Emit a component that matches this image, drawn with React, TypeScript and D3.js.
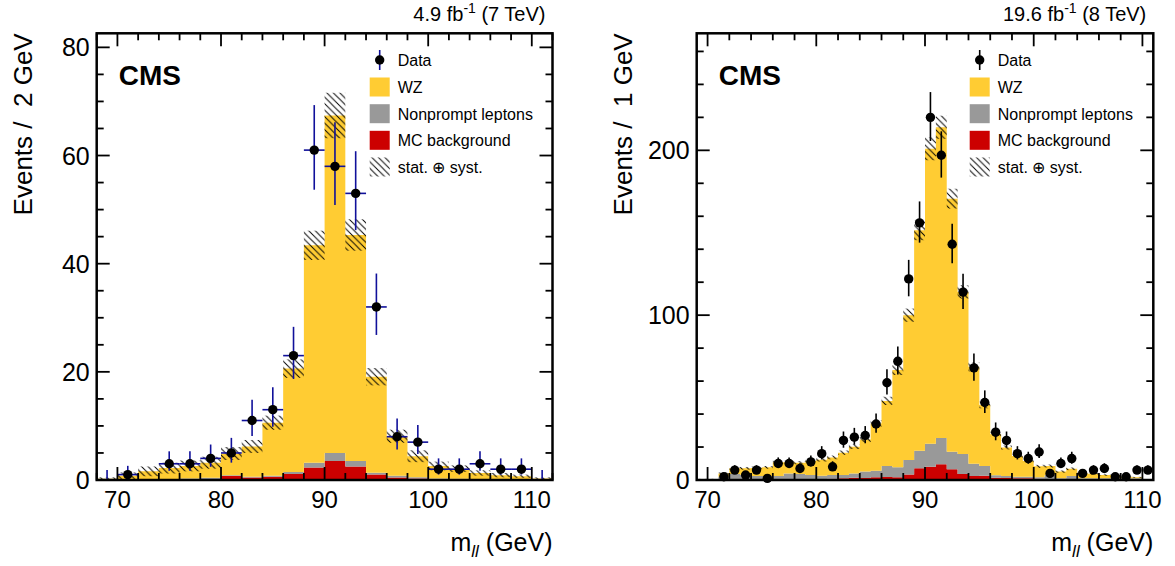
import React from "react";
import * as d3 from "d3";

const W = 1175;
const H = 566;

// ---------- Left panel: 4.9 fb-1 (7 TeV), 2 GeV bins ----------
const binsLeft = [68, 70, 72, 74, 76, 78, 80, 82, 84, 86, 88, 90, 92, 94, 96, 98, 100, 102, 104, 106, 108, 110];
const mcBkgLeft = [0.2, 0.1, 0.1, 0.1, 0.1, 0.2, 0.75, 0.45, 0.6, 1.1, 2.3, 3.5, 2.5, 1.0, 0.45, 0.3, 0.15, 0.1, 0.1, 0.1, 0.1, 0.1];
const nonpromptLeft = [0.05, 0.1, 0.1, 0.1, 0.2, 0.2, 0.15, 0.15, 0.2, 0.4, 0.9, 1.5, 1.0, 0.35, 0.35, 0.2, 0.15, 0.15, 0.1, 0.1, 0.1, 0.05];
const wzLeft = [0.05, 0.6, 1.4, 2.0, 2.3, 2.8, 4.0, 5.6, 9.8, 19.1, 40.2, 62.4, 41.8, 17.75, 7.3, 3.9, 2.3, 1.85, 1.1, 0.7, 0.5, 0.15];
const uncLeft = [0.2, 0.6, 0.9, 1.0, 1.0, 1.1, 1.2, 1.2, 1.3, 1.7, 2.7, 4.2, 2.9, 1.6, 1.2, 1.1, 0.8, 0.6, 0.5, 0.4, 0.3, 0.2];
const dataLeft: (number | null)[] = [0, 1, null, 3, 3, 4, 5, 11, 13, 23, 61, 58, 53, 32, 8, 7, 2, 2, 3, 2, 2, 0];
const yTicksLeft = [0, 20, 40, 60, 80];

// ---------- Right panel: 19.6 fb-1 (8 TeV), 1 GeV bins ----------
const binsRight = [69, 70, 71, 72, 73, 74, 75, 76, 77, 78, 79, 80, 81, 82, 83, 84, 85, 86, 87, 88, 89, 90, 91, 92, 93, 94, 95, 96, 97, 98, 99, 100, 101, 102, 103, 104, 105, 106, 107, 108, 109, 110];
const mcBkgRight = [0.5, 0.5, 0.5, 0.5, 0.4, 0.4, 0.4, 0.4, 0.5, 0.5, 0.6, 0.6, 0.7, 1.0, 1.3, 1.2, 1.6, 1.8, 1.6, 3.4, 7.1, 8.1, 9.5, 6.5, 3.6, 2.4, 2.6, 1.4, 1.2, 1.0, 1.0, 0.8, 0.6, 0.5, 0.5, 0.4, 0.4, 0.4, 0.4, 0.4, 0.4, 0];
const nonpromptRight = [0, 0, 1.5, 3.1, 2.6, 2.0, 2.0, 2.0, 3.5, 3.1, 2.4, 2.0, 2.3, 2.0, 2.7, 3.9, 4.0, 6.7, 6.1, 8.7, 10.7, 13.9, 16.0, 10.7, 12.2, 7.4, 5.9, 1.5, 1.2, 1.0, 1.0, 0.8, 2.4, 0.5, 1.9, 0.6, 0.6, 0.6, 0.6, 0.6, 0.6, 0];
const wzRight = [0, 0, 2.0, 3.5, 4.1, 4.9, 5.3, 8.3, 6.7, 6.9, 8.5, 9.7, 10.7, 13.6, 16.2, 19.5, 28.7, 39.5, 59.0, 87.9, 133.7, 179.0, 188.5, 153.5, 98.3, 58.9, 37.0, 24.9, 17.3, 12.6, 9.6, 6.7, 5.5, 4.1, 4.4, 3.0, 2.8, 2.0, 2.0, 1.0, 0.6, 0];
const uncRight = [0.2, 0.2, 0.6, 0.8, 0.8, 0.8, 0.8, 1.0, 1.0, 1.0, 1.0, 1.1, 1.1, 1.3, 1.4, 1.6, 2.0, 2.5, 3.0, 4.0, 6.0, 7.0, 7.0, 6.0, 4.0, 2.8, 2.0, 1.5, 1.2, 1.1, 1.0, 0.9, 0.9, 0.7, 0.8, 0.6, 0.6, 0.5, 0.5, 0.4, 0.3, 0];
const dataRight: (number | null)[] = [null, null, 2, 6, 3, 6, 1, 10, 10, 7, 11, 16, 8, 24, 26, 27, 34, 59, 72, 122, 156, 220, 197, 143, 114, 68, 47, 29, 24, 16, 13, 17, 4, 10, 13, 4, 6, 7, 2, 2, 6, 6];
const yTicksRight = [0, 100, 200];

const xTicks = [70, 80, 90, 100, 110];
const legendLabels = ["Data", "WZ", "Nonprompt leptons", "MC background", "stat. \u2295 syst."];

const COL_WZ = "#ffcc33";
const COL_NP = "#999999";
const COL_MC = "#cc0000";
const FONT = "'Liberation Sans', Arial, Helvetica, sans-serif";

function poisson(n: number): [number, number] {
  if (n === 0) return [0, 1.84];
  const s = Math.sqrt(n + 0.25);
  return [n - (s - 0.5), n + s + 0.5];
}

type PanelProps = {
  id: string;
  x0: number;
  x1: number;
  yTop: number;
  yBot: number;
  xDomain: [number, number];
  yMax: number;
  bins: number[];
  binW: number;
  mc: number[];
  np: number[];
  wz: number[];
  unc: number[];
  data: (number | null)[];
  yTicks: number[];
  yMinor: number;
  errColor: string;
  xErr: boolean;
  lumi: string;
  lumiSup: string;
  energy: string;
  yTitle: string;
};

function Panel(p: PanelProps) {
  const x = d3.scaleLinear().domain(p.xDomain).range([p.x0, p.x1]);
  const y = d3.scaleLinear().domain([0, p.yMax]).range([p.yBot, p.yTop]);

  const rows = p.bins.map((b, i) => ({ edge: b, mc: p.mc[i], np: p.np[i], wz: p.wz[i] }));
  const stacked = d3.stack<any>().keys(["mc", "np", "wz"])(rows);
  const colors = [COL_MC, COL_NP, COL_WZ];
  const area = d3
    .area<[number, number, number]>()
    .x((d) => x(d[0]))
    .y0((d) => y(d[1]))
    .y1((d) => y(d[2]))
    .curve(d3.curveStepAfter);

  const layers = stacked.map((s, k) => {
    const pts: [number, number, number][] = s.map((d, i) => [p.bins[i], d[0], d[1]]);
    const last = pts[pts.length - 1];
    pts.push([last[0] + p.binW, last[1], last[2]]);
    return <path key={k} d={area(pts) || ""} fill={colors[k]} stroke="none" />;
  });

  const totals = stacked[2].map((d) => d[1]);

  const band = p.bins.map((b, i) => {
    const t = totals[i];
    const u = p.unc[i];
    if (u <= 0) return null;
    const top = Math.min(t + u, p.yMax);
    const bot = Math.max(t - u, 0);
    return (
      <rect
        key={i}
        x={x(b)}
        y={y(top)}
        width={x(b + p.binW) - x(b)}
        height={y(bot) - y(top)}
        fill={`url(#hatch-${p.id})`}
      />
    );
  });

  const points = p.data.map((n, i) => {
    if (n === null) return null;
    const cx = x(p.bins[i] + p.binW / 2);
    const [lo, hi] = poisson(n);
    return (
      <g key={i}>
        <line x1={cx} x2={cx} y1={y(lo)} y2={y(Math.min(hi, p.yMax))} stroke={p.errColor} strokeWidth={1.6} />
        {p.xErr && n > 0 && (
          <line x1={x(p.bins[i])} x2={x(p.bins[i] + p.binW)} y1={y(n)} y2={y(n)} stroke={p.errColor} strokeWidth={1.6} />
        )}
        {n > 0 && <circle cx={cx} cy={y(n)} r={4.7} fill="black" />}
      </g>
    );
  });

  // ticks
  const tickEls: React.ReactNode[] = [];
  const majLen = 13;
  const minLen = 7;
  const xMinor = d3.range(Math.ceil(p.xDomain[0] / 2) * 2, p.xDomain[1] + 0.001, 2);
  xMinor.forEach((v) => {
    const len = v % 10 === 0 ? majLen : minLen;
    const xx = x(v);
    tickEls.push(<line key={`xb${v}`} x1={xx} x2={xx} y1={p.yBot} y2={p.yBot - len} stroke="black" strokeWidth={1.8} />);
    tickEls.push(<line key={`xt${v}`} x1={xx} x2={xx} y1={p.yTop} y2={p.yTop + len} stroke="black" strokeWidth={1.8} />);
  });
  const yMinorVals = d3.range(0, p.yMax, p.yMinor);
  yMinorVals.forEach((v) => {
    const isMaj = p.yTicks.includes(v);
    const len = isMaj ? majLen : minLen;
    const yy = y(v);
    tickEls.push(<line key={`yl${v}`} x1={p.x0} x2={p.x0 + len} y1={yy} y2={yy} stroke="black" strokeWidth={1.8} />);
    tickEls.push(<line key={`yr${v}`} x1={p.x1} x2={p.x1 - len} y1={yy} y2={yy} stroke="black" strokeWidth={1.8} />);
  });

  const xLabels = xTicks.map((v) => (
    <text key={v} x={x(v)} y={508} textAnchor="middle" fontSize={24} fontFamily={FONT}>
      {v}
    </text>
  ));
  const yLabels = p.yTicks.map((v) => (
    <text key={v} x={p.x0 - 7} y={y(v) + 9} textAnchor="end" fontSize={25} fontFamily={FONT}>
      {v}
    </text>
  ));

  // legend
  const lx = p.x0 + 273;
  const rowsY = [60, 87, 113.7, 140.3, 167];
  const legend = (
    <g fontFamily={FONT} fontSize={16}>
      <line x1={lx + 10} x2={lx + 10} y1={rowsY[0] - 10} y2={rowsY[0] + 10} stroke={p.errColor} strokeWidth={1.6} />
      <circle cx={lx + 10} cy={rowsY[0]} r={4.7} fill="black" />
      <rect x={lx} y={rowsY[1] - 9.5} width={20} height={19} fill={COL_WZ} />
      <rect x={lx} y={rowsY[2] - 9.5} width={20} height={19} fill={COL_NP} />
      <rect x={lx} y={rowsY[3] - 9.5} width={20} height={19} fill={COL_MC} />
      <rect x={lx} y={rowsY[4] - 9.5} width={20} height={19} fill={`url(#hatch-${p.id})`} />
      {legendLabels.map((t, i) => (
        <text key={i} x={lx + 28} y={rowsY[i] + 6}>
          {t}
        </text>
      ))}
    </g>
  );

  return (
    <g>
      <defs>
        <pattern id={`hatch-${p.id}`} width={6.5} height={6.5} patternUnits="userSpaceOnUse">
          <path d="M0,0 L6.5,6.5 M-1,5.5 L1,7.5 M5.5,-1 L7.5,1" stroke="black" strokeWidth={0.95} />
        </pattern>
      </defs>
      {layers}
      {band}
      {points}
      {tickEls}
      <rect x={p.x0} y={p.yTop} width={p.x1 - p.x0} height={p.yBot - p.yTop} fill="none" stroke="black" strokeWidth={2.5} />
      {xLabels}
      {yLabels}
      <text
        transform={`translate(${p.x0 - 65},${p.yTop}) rotate(-90)`}
        textAnchor="end"
        fontSize={26}
        fontFamily={FONT}
        xmlSpace="preserve"
        style={{ whiteSpace: "pre" }}
      >
        {p.yTitle}
      </text>
      <text x={p.x1} y={551} textAnchor="end" fontSize={25} fontFamily={FONT}>
        m<tspan fontSize={17} fontStyle="italic" dy={6}>ll</tspan>
        <tspan dy={-6}> (GeV)</tspan>
      </text>
      <text x={p.x1 - 7} y={21} textAnchor="end" fontSize={20} fontFamily={FONT}>
        {p.lumi}
        <tspan fontSize={14} dy={-8}>{p.lumiSup}</tspan>
        <tspan dy={8}>{p.energy}</tspan>
      </text>
      <text x={p.x0 + 22} y={85} fontSize={28} fontWeight="bold" fontFamily={FONT}>
        CMS
      </text>
      {legend}
    </g>
  );
}

export default function App() {
  return (
    <svg width={W} height={H} style={{ display: "block", position: "absolute", left: 0, top: 0, background: "white" }}>
      <rect width={W} height={H} fill="white" />
      <Panel
        id="l"
        x0={96.7}
        x1={552.5}
        yTop={33.3}
        yBot={480}
        xDomain={[68, 112]}
        yMax={82.6}
        bins={binsLeft}
        binW={2}
        mc={mcBkgLeft}
        np={nonpromptLeft}
        wz={wzLeft}
        unc={uncLeft}
        data={dataLeft}
        yTicks={yTicksLeft}
        yMinor={5}
        errColor="#10109a"
        xErr={true}
        lumi="4.9 fb"
        lumiSup="-1"
        energy=" (7 TeV)"
        yTitle={"Events /  2 GeV"}
      />
      <Panel
        id="r"
        x0={696.7}
        x1={1153.3}
        yTop={33.3}
        yBot={480}
        xDomain={[69, 111]}
        yMax={271}
        bins={binsRight}
        binW={1}
        mc={mcBkgRight}
        np={nonpromptRight}
        wz={wzRight}
        unc={uncRight}
        data={dataRight}
        yTicks={yTicksRight}
        yMinor={20}
        errColor="black"
        xErr={false}
        lumi="19.6 fb"
        lumiSup="-1"
        energy=" (8 TeV)"
        yTitle={"Events /  1 GeV"}
      />
    </svg>
  );
}
